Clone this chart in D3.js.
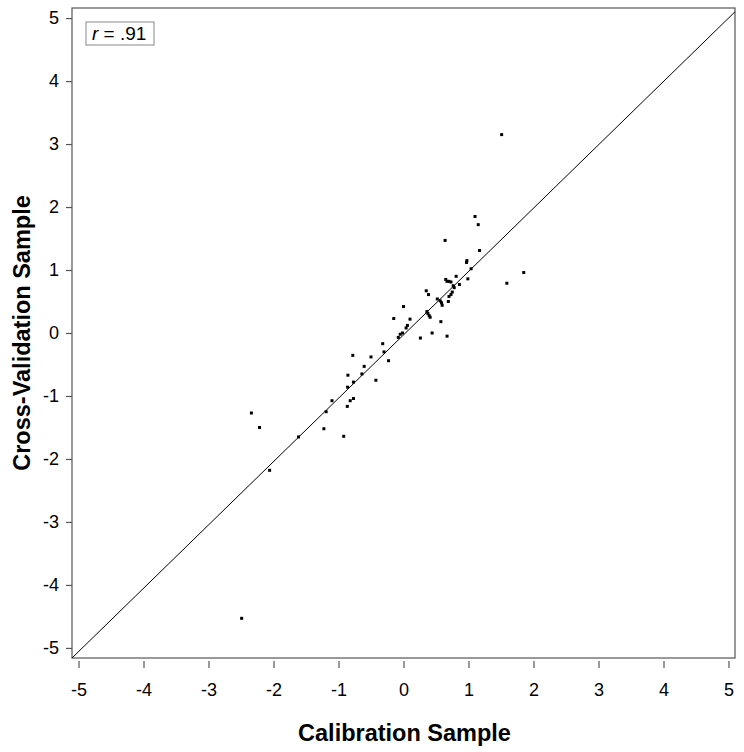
<!DOCTYPE html>
<html>
<head>
<meta charset="utf-8">
<script src="https://cdn.jsdelivr.net/npm/d3@7"></script>
<style>
  body { margin: 0; background: #fff; }
  svg { display: block; font-family: "Liberation Sans", Arial, sans-serif; }
</style>
</head>
<body>
<svg id="chart" width="744" height="752"></svg>
<script>
const calibration = [1.51, 1.10, 1.15, 0.64, 1.17, 0.975, 0.97, 1.04, 1.85, 1.59,
  0.99, 0.81, 0.86, 0.65, 0.67, 0.70, 0.73, 0.765, 0.78, 0.75,
  0.73, 0.70, 0.35, 0.385, 0.52, 0.565, 0.585, 0.595, 0.69, 0.36,
  0.375, 0.395, 0.41, 0.0, -0.15, 0.10, 0.06, 0.04, -0.015, -0.05,
  -0.08, 0.26, 0.44, 0.575, 0.67, -0.32, -0.30, -0.50, -0.23, -0.78,
  -0.605, -0.64, -0.855, -0.425, -0.77, -0.86, -0.77, -0.82, -0.865, -1.10,
  -1.19, -1.225, -0.92, -1.615, -2.34, -2.215, -2.06, -2.49];
const crossValidation = [3.15, 1.85, 1.72, 1.47, 1.31, 1.15, 1.12, 1.02, 0.96, 0.79,
  0.86, 0.90, 0.77, 0.85, 0.82, 0.82, 0.81, 0.75, 0.72, 0.65,
  0.61, 0.58, 0.67, 0.61, 0.54, 0.51, 0.48, 0.44, 0.50, 0.34,
  0.31, 0.275, 0.25, 0.42, 0.23, 0.22, 0.12, 0.08, 0.0, -0.02,
  -0.07, -0.08, 0.0, 0.18, -0.05, -0.17, -0.30, -0.38, -0.44, -0.355,
  -0.53, -0.65, -0.67, -0.75, -0.78, -0.86, -1.04, -1.075, -1.165, -1.075,
  -1.25, -1.52, -1.64, -1.65, -1.27, -1.50, -2.18, -4.53];
const tickValues = [-5, -4, -3, -2, -1, 0, 1, 2, 3, 4, 5];
const rLabel = ".91";
const xTitle = "Calibration Sample";
const yTitle = "Cross-Validation Sample";

(function () {
const svg = d3.select("#chart");
const pLeft = 72, pRight = 735, pTop = 8, pBottom = 658;

const x = d3.scaleLinear().domain([-5.1, 5.1]).range([pLeft, pRight]);
const y = d3.scaleLinear().domain([-5.16, 5.16]).range([pBottom, pTop]);

// frame
svg.append("rect")
  .attr("x", pLeft).attr("y", pTop)
  .attr("width", pRight - pLeft).attr("height", pBottom - pTop)
  .attr("fill", "none").attr("stroke", "#555").attr("stroke-width", 1.2);

// diagonal y = x
const hi = Math.min(x.domain()[1], y.domain()[1]);
svg.append("line")
  .attr("x1", pLeft).attr("y1", pBottom)
  .attr("x2", x(hi)).attr("y2", y(hi))
  .attr("stroke", "#000").attr("stroke-width", 1);

const fmt = d => String(d);

// x axis
const xAxis = d3.axisBottom(x).tickValues(tickValues).tickSize(7).tickPadding(15).tickFormat(fmt);
const gx = svg.append("g").attr("transform", `translate(0,${pBottom + 3})`).call(xAxis);
gx.select(".domain").remove();
gx.selectAll(".tick line").attr("stroke", "#555").attr("stroke-width", 1.2);
gx.selectAll(".tick text").attr("font-size", 18).attr("fill", "#000")
  .attr("font-family", "Liberation Sans, Arial, sans-serif");

// y axis
const yAxis = d3.axisLeft(y).tickValues(tickValues).tickSize(6).tickPadding(7).tickFormat(fmt);
const gy = svg.append("g").attr("transform", `translate(${pLeft},0)`).call(yAxis);
gy.select(".domain").remove();
gy.selectAll(".tick line").attr("stroke", "#555").attr("stroke-width", 1.2);
gy.selectAll(".tick text").attr("font-size", 18).attr("fill", "#000")
  .attr("font-family", "Liberation Sans, Arial, sans-serif");

// points
const pts = calibration.map((c, i) => ({ c, v: crossValidation[i] }));
svg.append("g").selectAll("rect").data(pts).join("rect")
  .attr("x", d => x(d.c) - 1.5).attr("y", d => y(d.v) - 1.5)
  .attr("width", 3).attr("height", 3).attr("fill", "#000");

// r label box
svg.append("rect")
  .attr("x", 86).attr("y", 22).attr("width", 68).attr("height", 23)
  .attr("fill", "#fff").attr("stroke", "#888").attr("stroke-width", 1);
const t = svg.append("text").attr("x", 92).attr("y", 40)
  .attr("font-size", 19).attr("fill", "#000");
t.append("tspan").attr("font-style", "italic").text("r");
t.append("tspan").text(" = " + rLabel);

// axis titles
svg.append("text")
  .attr("x", (pLeft + pRight) / 2 + 1).attr("y", 741)
  .attr("text-anchor", "middle").attr("font-size", 23.5).attr("font-weight", "bold")
  .text(xTitle);
svg.append("text")
  .attr("transform", `translate(30,${(pTop + pBottom) / 2}) rotate(-90)`)
  .attr("text-anchor", "middle").attr("font-size", 23.5).attr("font-weight", "bold")
  .text(yTitle);
})();
</script>
</body>
</html>
